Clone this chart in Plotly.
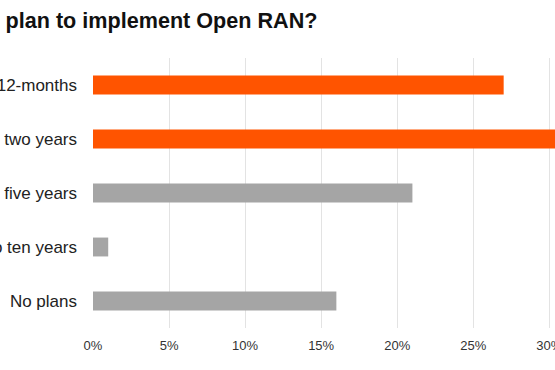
import plotly.graph_objects as go

categories = ["Within 12-months", "Within two years", "Within five years", "Five to ten years", "No plans"]
values = [27, 35, 21, 1, 16]
colors = ["#FF5400", "#FF5400", "#A5A5A5", "#A5A5A5", "#A5A5A5"]
tick_vals = [0, 5, 10, 15, 20, 25, 30]
tick_text = ["0%", "5%", "10%", "15%", "20%", "25%", "30%"]
title_text = "When do you plan to implement Open RAN?"

fig = go.Figure(go.Bar(
    x=values, y=categories, orientation="h",
    marker=dict(color=colors, line=dict(width=0)),
))

fig.update_layout(
    width=555, height=370,
    template="none",
    paper_bgcolor="white", plot_bgcolor="white",
    margin=dict(l=93, r=0, t=58, b=42, autoexpand=False),
    bargap=0.65,
    showlegend=False,
    font=dict(family="Liberation Sans, Arial, sans-serif", color="#222222"),
    annotations=[dict(
        text="<b>" + title_text + "</b>",
        xref="paper", yref="paper", x=0.4892, y=1.1407,
        xanchor="right", yanchor="middle", showarrow=False,
        font=dict(size=21.6, color="#111111", family="Liberation Sans, Arial, sans-serif"),
    )],
)

fig.update_xaxes(
    range=[0, 30.375], tickvals=tick_vals, ticktext=tick_text,
    showgrid=True, gridcolor="#E3E3E3", gridwidth=1,
    zeroline=False, showline=False, ticks="",
    tickfont=dict(size=13, color="#333333"),
    ticklabelstandoff=8, ticklabeloverflow="allow",
    automargin=False, fixedrange=True,
)
fig.update_yaxes(
    categoryorder="array", categoryarray=categories, autorange="reversed",
    showgrid=False, zeroline=False, showline=False, ticks="",
    tickfont=dict(size=17, color="#222222"),
    ticklabelstandoff=15, ticklabeloverflow="allow",
    automargin=False, fixedrange=True,
)

fig.write_html(
    "out.html",
    config={"displayModeBar": False},
    post_script="document.body.style.margin='0';document.body.style.overflow='hidden';",
)
